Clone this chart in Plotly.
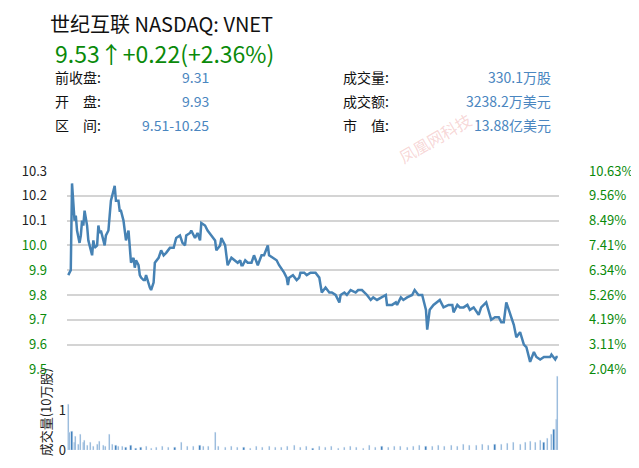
import plotly.graph_objects as go

# intraday price (minutes from open)
t_min = [0, 2, 3, 5, 6, 7, 9, 10, 11, 12, 13, 15, 16, 17, 19, 20, 21, 23, 24, 25,
         26, 28, 29, 30, 32, 33, 34, 36, 37, 38, 40, 41, 42, 44, 45, 46, 48, 49, 50, 52,
         53, 54, 56, 57, 58, 60, 61, 62, 64, 65, 66, 68, 69, 72, 74, 76, 78, 81, 84, 86,
         89, 91, 93, 94, 97, 98, 101, 103, 105, 106, 109, 111, 114, 117, 118, 121, 122, 123, 125, 126,
         127, 130, 133, 135, 137, 138, 139, 141, 143, 146, 148, 151, 154, 156, 159, 160, 163, 166, 168, 171,
         172, 174, 175, 176, 179, 182, 184,
         185, 188, 190, 193, 197, 200, 202, 205, 208, 210, 213, 216, 217, 220, 222, 225, 229, 231, 234, 238,
         241, 243, 246, 249, 253, 254, 258, 261, 262, 265, 267, 270, 274, 276, 279, 282, 284, 285, 286, 288,
         291, 294, 296, 299, 303, 306, 307, 310, 312, 315, 318, 320, 323, 327, 329, 333, 335, 337, 340, 343,
         345, 347, 349, 352, 355, 357, 360, 363, 365, 368, 371, 373, 376, 379, 381, 384, 385, 388, 389, 390]
price = [9.88, 9.90, 10.25, 10.10, 10.12, 10.06, 10.01, 10.04, 10.10, 10.08, 10.14, 10.08, 10.02, 10.00, 9.96, 10.02, 9.99, 10.00, 10.08, 10.05,
         10.06, 10.02, 10.00, 10.04, 10.06, 10.12, 10.18, 10.22, 10.24, 10.18, 10.18, 10.14, 10.14, 10.10, 10.06, 10.02, 10.06, 9.98, 9.93, 9.95,
         9.91, 9.94, 9.92, 9.88, 9.87, 9.86, 9.86, 9.88, 9.84, 9.83, 9.82, 9.85, 9.93, 9.95, 9.98, 9.96, 9.97, 9.99, 9.99, 10.03,
         10.04, 10.01, 10.00, 10.04, 10.05, 10.06, 10.03, 10.05, 10.02, 10.09, 10.08, 10.06, 10.04, 10.02, 9.98, 10.00, 10.03, 10.02, 10.00, 9.96,
         9.92, 9.95, 9.94, 9.93, 9.94, 9.92, 9.92, 9.94, 9.93, 9.93, 9.96, 9.92, 9.96, 9.96, 10.00, 9.96, 9.95, 9.94, 9.92, 9.90,
         9.89, 9.87, 9.84, 9.87, 9.88, 9.86, 9.87,
         9.89, 9.89, 9.88, 9.89, 9.89, 9.87, 9.81, 9.83, 9.81, 9.81, 9.80, 9.77, 9.80, 9.81, 9.80, 9.82, 9.81, 9.82, 9.82, 9.80,
         9.78, 9.79, 9.78, 9.79, 9.80, 9.76, 9.76, 9.77, 9.76, 9.79, 9.78, 9.79, 9.80, 9.82, 9.80, 9.80, 9.76, 9.74, 9.66, 9.74,
         9.76, 9.77, 9.78, 9.75, 9.76, 9.76, 9.73, 9.76, 9.75, 9.75, 9.76, 9.74, 9.75, 9.72, 9.75, 9.77, 9.73, 9.70, 9.71, 9.71,
         9.69, 9.69, 9.77, 9.72, 9.68, 9.63, 9.65, 9.60, 9.59, 9.53, 9.57, 9.55, 9.54, 9.55, 9.55, 9.55, 9.56, 9.54, 9.55, 9.55]

# volume, 10万股
vol_t = [0, 1, 3, 5, 6, 8, 10, 12, 13, 15, 18, 20, 23, 25, 28, 30, 33, 35, 38, 40,
         43, 46, 50, 54, 58, 62, 66, 70, 75, 80, 85, 90, 95, 100, 105, 108, 112, 117, 120, 125,
         130, 135, 140, 145, 150, 155, 160, 165, 170, 175, 180, 185, 190, 195, 200, 205, 210, 215, 220, 225,
         230, 235, 240, 245, 250, 255, 260, 265, 270, 275, 280, 285, 290, 295, 300, 305, 310, 315, 320, 325,
         330, 335, 340, 345, 350, 355, 360, 364, 368, 372, 376, 379, 382, 385, 387, 389, 390]
volume = [1.15, 0.45, 0.48, 0.20, 0.35, 0.15, 0.38, 0.20, 0.25, 0.12, 0.18, 0.10, 0.14, 0.22, 0.12, 0.10, 0.40, 0.15, 0.12, 0.10,
          0.08, 0.06, 0.12, 0.05, 0.06, 0.08, 0.05, 0.07, 0.10, 0.06, 0.07, 0.18, 0.10, 0.08, 0.12, 0.10, 0.08, 0.45, 0.10, 0.06,
          0.08, 0.06, 0.07, 0.05, 0.08, 0.06, 0.10, 0.07, 0.06, 0.08, 0.12, 0.06, 0.10, 0.05, 0.08, 0.06, 0.10, 0.05, 0.06, 0.08,
          0.07, 0.05, 0.12, 0.06, 0.08, 0.06, 0.10, 0.08, 0.06, 0.10, 0.12, 0.08, 0.10, 0.12, 0.10, 0.12, 0.10, 0.14, 0.12, 0.12,
          0.14, 0.12, 0.15, 0.14, 0.16, 0.18, 0.15, 0.20, 0.22, 0.18, 0.25, 0.20, 0.30, 0.38, 0.52, 0.78, 1.85]

prev_close = 9.31
price_ticks = [9.5, 9.6, 9.7, 9.8, 9.9, 10.0, 10.1, 10.2, 10.3]
price_labels = ["9.5", "9.6", "9.7", "9.8", "9.9", "10.0", "10.1", "10.2", "10.3"]

FONT = "Noto Sans CJK SC"
GREEN = "#0a8a0a"
BLUE = "#4a86c0"

left_text = []
for v, s in zip(price_ticks, price_labels):
    c = "#222" if v > 10.05 else GREEN
    left_text.append(f"<span style='color:{c}'>{s}</span>")
pct_text = [f"{(v / prev_close - 1) * 100:.2f}%" for v in price_ticks]

fig = go.Figure()
fig.add_trace(go.Scatter(x=t_min, y=price, mode="lines", yaxis="y",
                         line=dict(color="#4682b4", width=2.5), showlegend=False))
fig.add_trace(go.Scatter(x=t_min, y=price, mode="lines", yaxis="y3",
                         line=dict(width=0), opacity=0, showlegend=False, hoverinfo="skip"))
fig.add_trace(go.Bar(x=vol_t, y=volume, yaxis="y2", marker_color="#2e75b6",
                     width=0.9, showlegend=False))

fig.update_layout(
    width=639, height=468,
    margin=dict(l=59, r=88, t=163, b=26),
    paper_bgcolor="white", plot_bgcolor="white",
    font=dict(family=FONT, size=13, color="#222"),
    bargap=0,
    xaxis=dict(range=[-1, 391], showticklabels=False, showgrid=False, zeroline=False),
    yaxis=dict(domain=[0.289, 1], range=[9.5, 10.3], tickvals=price_ticks, ticktext=left_text,
               gridcolor="#d4d4d4", gridwidth=1.5, zeroline=False, ticklabelstandoff=19),
    yaxis3=dict(domain=[0.289, 1], range=[9.5, 10.3], overlaying="y", side="right",
                tickvals=price_ticks, ticktext=pct_text, tickfont=dict(color=GREEN),
                showgrid=False, zeroline=False, ticklabelstandoff=29, anchor="x"),
    yaxis2=dict(domain=[0, 0.271], range=[0, 1.9], tickvals=[0, 1], showgrid=False,
                zeroline=False, title=dict(text="成交量(10万股)", font=dict(size=13), standoff=4)),
)

ann = [
    dict(x=48, y=22, text="世纪互联 NASDAQ: VNET", size=20, color="#111", xa="left"),
    dict(x=53, y=52, text="9.53↑+0.22(+2.36%)", size=23, color=GREEN, xa="left"),
    dict(x=53, y=76, text="前收盘:", size=14, color="#111", xa="left"),
    dict(x=53, y=100, text="开　盘:", size=14, color="#111", xa="left"),
    dict(x=53, y=124, text="区　间:", size=14, color="#111", xa="left"),
    dict(x=211, y=76, text="9.31", size=14, color=BLUE, xa="right"),
    dict(x=211, y=100, text="9.93", size=14, color=BLUE, xa="right"),
    dict(x=211, y=124, text="9.51-10.25", size=14, color=BLUE, xa="right"),
    dict(x=341, y=76, text="成交量:", size=14, color="#111", xa="left"),
    dict(x=341, y=100, text="成交额:", size=14, color="#111", xa="left"),
    dict(x=341, y=124, text="市　值:", size=14, color="#111", xa="left"),
    dict(x=553, y=76, text="330.1万股", size=14, color=BLUE, xa="right"),
    dict(x=553, y=100, text="3238.2万美元", size=14, color=BLUE, xa="right"),
    dict(x=553, y=124, text="13.88亿美元", size=14, color=BLUE, xa="right"),
]
# page pixel -> paper coords of the plot area
for a in ann:
    fig.add_annotation(x=(a["x"] - 67) / 492, y=(449 - a["y"]) / 279, xref="paper", yref="paper",
                       xanchor=a["xa"], yanchor="middle", showarrow=False, text=a["text"],
                       font=dict(family=FONT, size=a["size"], color=a["color"]))
fig.add_annotation(x=(478 - 67) / 492, y=(449 - 104) / 279, xref="paper", yref="paper",
                   text="凤凰网科技", showarrow=False, textangle=-30,
                   font=dict(family=FONT, size=16, color="rgba(230,120,120,0.3)"))

fig.write_html("out.html")
